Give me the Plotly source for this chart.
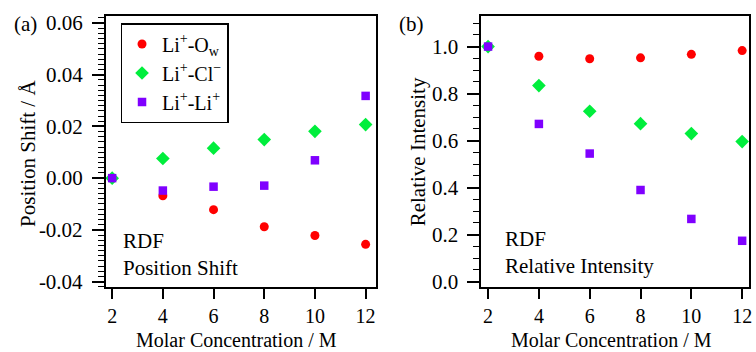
import plotly.graph_objects as go
from plotly.subplots import make_subplots

conc = [2, 4, 6, 8, 10, 12]
shift_li_ow = [0.0, -0.0068, -0.0122, -0.0188, -0.0222, -0.0256]
shift_li_cl = [0.0, 0.0076, 0.0116, 0.0149, 0.0181, 0.0207]
shift_li_li = [0.0, -0.0048, -0.0033, -0.0029, 0.0069, 0.0318]
int_li_ow = [1.0, 0.959, 0.948, 0.952, 0.967, 0.983]
int_li_cl = [1.0, 0.834, 0.725, 0.672, 0.630, 0.596]
int_li_li = [1.0, 0.671, 0.545, 0.390, 0.267, 0.174]
names = ["Li<sup>+</sup>-O<sub>w</sub>", "Li<sup>+</sup>-Cl<sup>−</sup>", "Li<sup>+</sup>-Li<sup>+</sup>"]
x_ticks = [2, 4, 6, 8, 10, 12]
shift_ticks = [-0.04, -0.02, 0.0, 0.02, 0.04, 0.06]
shift_labels = ["-0.04", "-0.02", "0.00", "0.02", "0.04", "0.06"]
int_ticks = [0.0, 0.2, 0.4, 0.6, 0.8, 1.0]
int_labels = ["0.0", "0.2", "0.4", "0.6", "0.8", "1.0"]

RED = "#ff0000"
GREEN = "#00ee3c"
PURPLE = "#7f00ff"
FONT = "Liberation Serif, Times New Roman, serif"

W, H = 756, 352
MT, MB = 16, 65
PH = H - MT - MB


def px(x):
    return x / W


def py(y):
    return (H - MB - y) / PH


fig = make_subplots(rows=1, cols=2)

styles = [
    dict(symbol="circle", color=RED, size=9),
    dict(symbol="diamond", color=GREEN, size=10.5),
    dict(symbol="square", color=PURPLE, size=8.5),
]
for i, ys in enumerate([shift_li_ow, shift_li_cl, shift_li_li]):
    fig.add_trace(go.Scatter(x=conc, y=ys, mode="markers", name=names[i],
                             marker=dict(symbol=styles[i]["symbol"], color=styles[i]["color"],
                                         size=styles[i]["size"], line=dict(width=0)),
                             cliponaxis=False, showlegend=True), row=1, col=1)
for i, ys in enumerate([int_li_ow, int_li_cl, int_li_li]):
    fig.add_trace(go.Scatter(x=conc, y=ys, mode="markers", name=names[i],
                             marker=dict(symbol=styles[i]["symbol"], color=styles[i]["color"],
                                         size=styles[i]["size"], line=dict(width=0)),
                             cliponaxis=False, showlegend=False), row=1, col=2)


def ax(size=21, **kw):
    d = dict(showline=True, linecolor="black", linewidth=1.5, mirror=True,
             showgrid=False, zeroline=False, ticks="outside", tickcolor="black",
             tickwidth=1.5, tickfont=dict(family=FONT, size=size, color="black"))
    d.update(kw)
    return d


fig.update_layout(
    width=W, height=H,
    margin=dict(l=0, r=0, t=MT, b=MB),
    plot_bgcolor="white", paper_bgcolor="white",
    xaxis=ax(size=20, domain=[px(106), px(377)], range=[1.74, 12.39], tickvals=x_ticks, ticklen=10,
             ticklabelstandoff=0),
    xaxis2=ax(size=20, domain=[px(483), px(752)], range=[1.725, 12.27], tickvals=x_ticks, ticklen=10,
              ticklabelstandoff=0),
    yaxis=ax(range=[-0.0421, 0.0627], tickvals=shift_ticks, ticktext=shift_labels, ticklen=12,
             ticklabelstandoff=5,
             minor=dict(dtick=0.002, ticks="outside", ticklen=6, tickcolor="black", tickwidth=1)),
    yaxis2=ax(range=[-0.0225, 1.13], tickvals=int_ticks, ticktext=int_labels, ticklen=12,
              ticklabelstandoff=5,
              minor=dict(dtick=0.05, ticks="outside", ticklen=6, tickcolor="black", tickwidth=1)),
    showlegend=True,
    legend=dict(x=px(121), y=py(23), xanchor="left", yanchor="top", xref="paper", yref="paper",
                bordercolor="black", borderwidth=1.5, bgcolor="white",
                font=dict(family=FONT, size=20, color="black"), tracegroupgap=0,
                itemwidth=30),
    font=dict(family=FONT, color="black", size=21),
)

ann = [
    dict(text="(a)", x=12, y=24, xanchor="left"),
    dict(text="(b)", x=399, y=24, xanchor="left"),
    dict(text="Position Shift / Å", x=28, y=153, angle=-90),
    dict(text="Relative Intensity", x=420, y=152, angle=-90),
    dict(text="Molar Concentration / M", x=237, y=340, size=20),
    dict(text="Molar Concentration / M", x=614, y=340, size=20),
    dict(text="RDF<br>Position Shift", x=121, y=254, xanchor="left", align="left"),
    dict(text="RDF<br>Relative Intensity", x=505, y=252, xanchor="left", align="left"),
]
for a in ann:
    fig.add_annotation(text=a["text"], x=px(a["x"]), y=py(a["y"]), xref="paper", yref="paper",
                       xanchor=a.get("xanchor", "center"), yanchor="middle", showarrow=False,
                       textangle=a.get("angle", 0), align=a.get("align", "center"),
                       font=dict(family=FONT, size=a.get("size", 21), color="black"))

fig.write_html("out.html", config={"displayModeBar": False})

# remove the default page margin so the 756x352 figure fills the window exactly
with open("out.html", "r", encoding="utf-8") as f:
    html = f.read()
html = html.replace("<head>", "<head><style>html,body{margin:0;padding:0;overflow:hidden;}</style>", 1)
with open("out.html", "w", encoding="utf-8") as f:
    f.write(html)
